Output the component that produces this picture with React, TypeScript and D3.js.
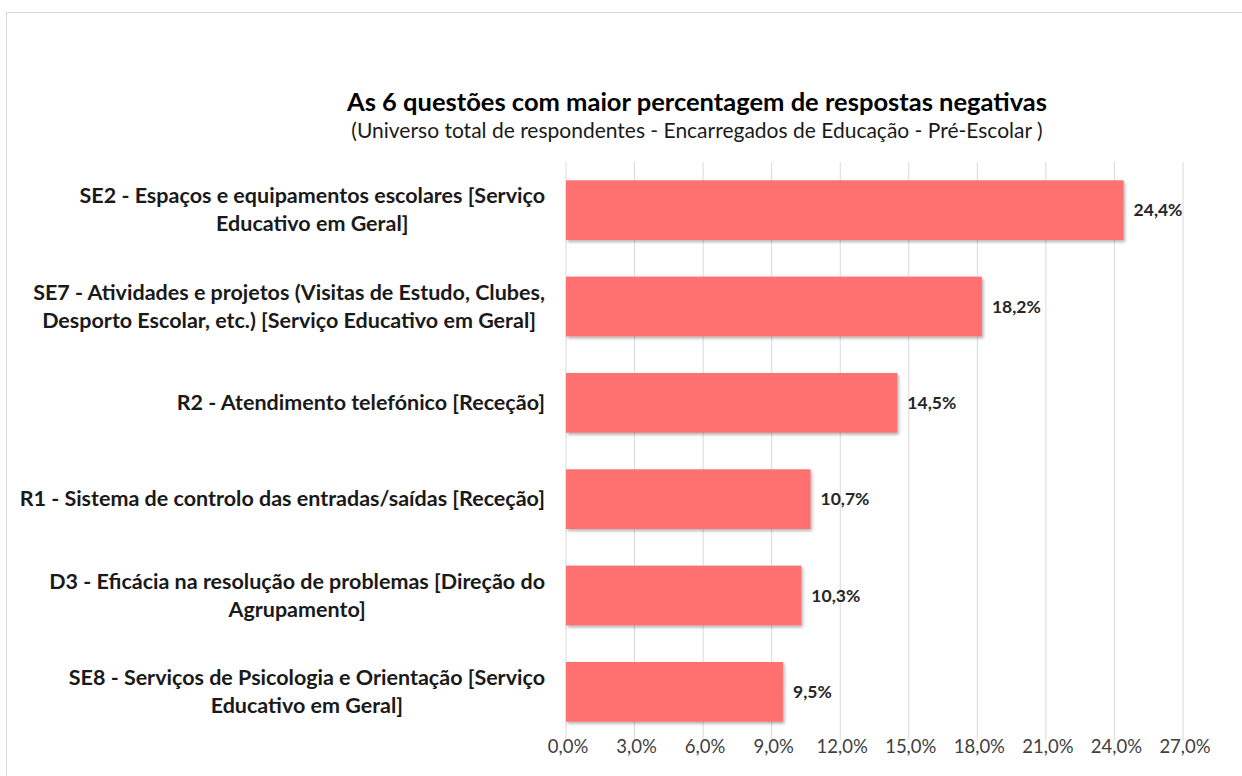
import { useRef, useEffect } from "react";
import * as d3 from "d3";

const labels = [
  ["SE2 - Espaços e equipamentos escolares [Serviço", "Educativo em Geral]"],
  ["SE7 - Atividades e projetos (Visitas de Estudo, Clubes,", "Desporto Escolar, etc.) [Serviço Educativo em Geral]"],
  ["R2 - Atendimento telefónico [Receção]"],
  ["R1 - Sistema de controlo das entradas/saídas [Receção]"],
  ["D3 - Eficácia na resolução de problemas [Direção do", "Agrupamento]"],
  ["SE8 - Serviços de Psicologia e Orientação [Serviço", "Educativo em Geral]"],
];
const values = [24.4, 18.2, 14.5, 10.7, 10.3, 9.5];
const ticks = [0, 3, 6, 9, 12, 15, 18, 21, 24, 27];

const title = "As 6 questões com maior percentagem de respostas negativas";
const subtitle = "(Universo total de respondentes - Encarregados de Educação - Pré-Escolar )";

const W = 1242;
const H = 776;
const fmt = (v: number) => v.toFixed(1).replace(".", ",") + "%";

export default function App() {
  const svgRef = useRef<SVGSVGElement>(null);

  useEffect(() => {
    if (!svgRef.current) return;
    const svg = d3.select(svgRef.current);
    svg.selectAll("*").remove();

    const font = "Lato, 'DejaVu Sans', sans-serif";
    const left = 566, right = 1183, top = 162, bottom = 740;

    // chart frame
    svg.append("rect")
      .attr("x", 6.5).attr("y", 12.5)
      .attr("width", W + 20).attr("height", H + 20)
      .attr("fill", "#fff").attr("stroke", "#d9d9d9");

    const x = d3.scaleLinear().domain([0, 27]).range([left, right]);
    const y = d3.scaleBand<number>()
      .domain(values.map((_, i) => i))
      .range([top, bottom])
      .paddingInner(0.38).paddingOuter(0.19);

    // gridlines
    svg.append("g").selectAll("line")
      .data(ticks)
      .join("line")
      .attr("x1", (d) => x(d)).attr("x2", (d) => x(d))
      .attr("y1", top).attr("y2", bottom)
      .attr("stroke", "#d9d9d9").attr("stroke-width", 1);

    // axis labels
    svg.append("g").selectAll("text")
      .data(ticks)
      .join("text")
      .attr("x", (d) => x(d) + 2).attr("y", 753)
      .attr("text-anchor", "middle")
      .attr("fill", "#404040")
      .style("font-family", font).style("font-size", "18.5px")
      .text((d) => fmt(d));

    const defs = svg.append("defs");
    const f = defs.append("filter").attr("id", "shadow").attr("x", "-5%").attr("y", "-20%").attr("width", "115%").attr("height", "150%");
    f.append("feDropShadow").attr("dx", 1.5).attr("dy", 2).attr("stdDeviation", 1.5).attr("flood-color", "#000").attr("flood-opacity", 0.3);

    // bars
    svg.append("g").selectAll("rect")
      .data(values)
      .join("rect")
      .attr("x", x(0))
      .attr("y", (_, i) => y(i)!)
      .attr("width", (d) => x(d) - x(0))
      .attr("height", y.bandwidth())
      .attr("fill", "#ff6f6f")
      .attr("filter", "url(#shadow)");

    // value labels
    svg.append("g").selectAll("text")
      .data(values)
      .join("text")
      .attr("x", (d) => x(d) + 10)
      .attr("y", (_, i) => y(i)! + y.bandwidth() / 2 + 6)
      .attr("fill", "#262626")
      .style("font-family", font).style("font-size", "17.5px").style("font-weight", "bold")
      .text((d) => fmt(d));

    // category labels: wrapped lines centred on each other, block right-aligned
    const labelRight = 545;
    labels.forEach((lines, i) => {
      const cy = y(i)! + y.bandwidth() / 2;
      const g = svg.append("g");
      const texts = lines.map((line, j) =>
        g.append("text")
          .attr("y", cy + (j - (lines.length - 1) / 2) * 28 + 7)
          .attr("text-anchor", "middle")
          .attr("fill", "#1a1a1a")
          .style("font-family", font).style("font-size", "21.5px").style("font-weight", "bold")
          .text(line)
      );
      const maxW = d3.max(texts, (t) => (t.node() as SVGTextElement).getComputedTextLength()) || 0;
      texts.forEach((t) => t.attr("x", labelRight - maxW / 2));
    });

    // titles
    svg.append("text")
      .attr("x", 697).attr("y", 111)
      .attr("text-anchor", "middle")
      .attr("fill", "#000")
      .style("font-family", font).style("font-size", "25.5px").style("font-weight", "bold")
      .text(title);
    svg.append("text")
      .attr("x", 697).attr("y", 138)
      .attr("text-anchor", "middle")
      .attr("fill", "#1a1a1a")
      .style("font-family", font).style("font-size", "21px")
      .text(subtitle);
  }, []);

  return (
    <svg
      ref={svgRef}
      width={W}
      height={H}
      style={{ position: "absolute", left: 0, top: 0, background: "#fff" }}
    />
  );
}
